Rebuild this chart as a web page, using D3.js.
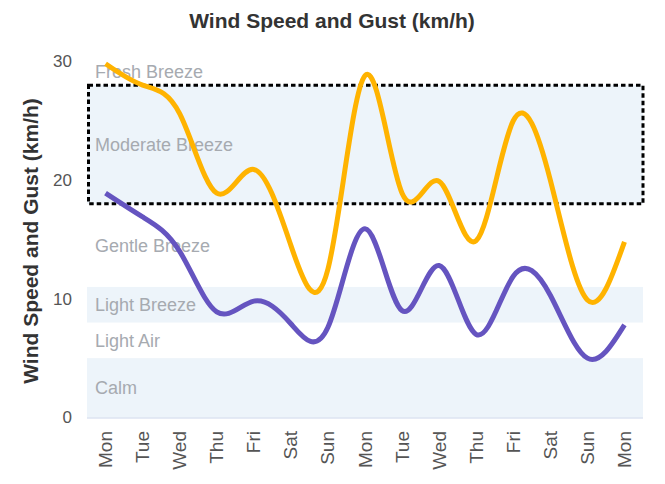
<!DOCTYPE html>
<html><head><meta charset="utf-8">
<script src="https://cdn.jsdelivr.net/npm/d3@7"></script>
<style>
html,body{margin:0;padding:0;background:#fff;}
text{font-family:"Liberation Sans",Arial,Helvetica,sans-serif;}
</style></head>
<body>
<svg id="chart" width="665" height="484"></svg>
<script>
const categories = ["Mon","Tue","Wed","Thu","Fri","Sat","Sun","Mon","Tue","Wed","Thu","Fri","Sat","Sun","Mon"];
const gustValues = [29.8, 28.0, 25.6, 18.9, 20.9, 14.5, 12.5, 28.8, 18.9, 19.9, 14.9, 25.0, 20.0, 9.9, 14.8];
const windValues = [18.9, 16.9, 14.0, 8.9, 9.8, 7.9, 7.6, 15.9, 9.0, 12.8, 7.0, 11.9, 10.3, 5.0, 7.8];
const yTicks = [0, 10, 20, 30];
const bandNames = ["Calm","Light Air","Light Breeze","Gentle Breeze","Moderate Breeze","Fresh Breeze"];
const bandFrom = [0, 5, 8, 11, 18, 28];
const bandTo = [5, 8, 11, 18, 28, 30.2];
const chartTitle = "Wind Speed and Gust (km/h)";
const yTitle = "Wind Speed and Gust (km/h)";

const svg = d3.select("#chart");
const pL = 87, pR = 643, pT = 61.4, pB = 417.5;
const x = d3.scaleBand().domain(d3.range(categories.length)).range([pL, pR]);
const y = d3.scaleLinear().domain([0, 30]).range([pB, pT]);
const cx = i => x(i) + x.bandwidth() / 2;

bandNames.forEach((name, i) => {
  if (i % 2 === 0) {
    svg.append("rect").attr("x", pL).attr("width", pR - pL)
      .attr("y", y(bandTo[i])).attr("height", y(bandFrom[i]) - y(bandTo[i]))
      .attr("fill", "#edf4fa");
  }
  svg.append("text").attr("x", 95).attr("y", (y(bandFrom[i]) + y(bandTo[i])) / 2)
    .attr("dy", "0.35em").attr("font-size", 18).attr("fill", "#a6aab0").text(name);
});

svg.append("rect").attr("x", pL + 1.5).attr("width", pR - pL - 1.5)
  .attr("y", y(28)).attr("height", y(18) - y(28))
  .attr("fill", "none").attr("stroke", "#000").attr("stroke-width", 3)
  .attr("stroke-dasharray", "4.5,3");

svg.append("line").attr("x1", pL).attr("x2", pR).attr("y1", pB + 0.5).attr("y2", pB + 0.5)
  .attr("stroke", "#ccd6eb").attr("stroke-width", 1);

yTicks.forEach(t => {
  svg.append("text").attr("x", 72).attr("y", y(t)).attr("dy", "0.35em")
    .attr("text-anchor", "end").attr("font-size", 17).attr("fill", "#555").text(t);
});

categories.forEach((c, i) => {
  svg.append("text").attr("transform", `translate(${cx(i) + 6.5},${431}) rotate(-90)`)
    .attr("text-anchor", "end").attr("font-size", 19).attr("fill", "#555").text(c);
});

svg.append("text").attr("x", 332).attr("y", 28).attr("text-anchor", "middle")
  .attr("font-size", 21).attr("font-weight", "bold").attr("fill", "#333").text(chartTitle);
svg.append("text").attr("transform", "translate(38,241) rotate(-90)").attr("text-anchor", "middle")
  .attr("font-size", 21).attr("font-weight", "bold").attr("fill", "#333").text(yTitle);

const series = [
  {values: gustValues, color: "#ffb300"},
  {values: windValues, color: "#6554c0"}
];
const line = d3.line().x(d => cx(d.i)).y(d => y(d.v)).curve(d3.curveNatural);
series.forEach(s => {
  svg.append("path").attr("d", line(s.values.map((v, i) => ({i, v})))).attr("fill", "none")
    .attr("stroke", s.color).attr("stroke-width", 5).attr("stroke-linejoin", "round");
});
</script>
</body></html>
